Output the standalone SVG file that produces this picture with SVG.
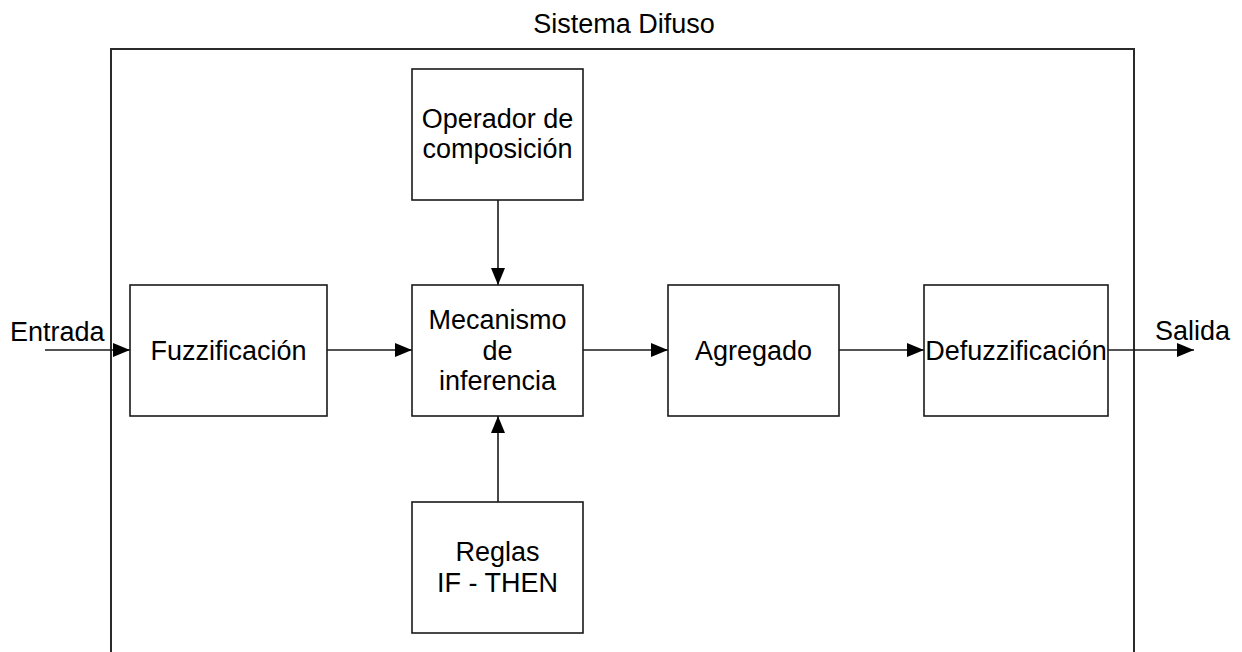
<svg xmlns="http://www.w3.org/2000/svg" width="1242" height="652" viewBox="0 0 1242 652">
<style>
  .box { fill: #fff; stroke: #1a1a1a; stroke-width: 1.6; }
  .frame { fill: none; stroke: #2a2a2a; stroke-width: 2; }
  .lbl { font-family: "Liberation Sans", Arial, sans-serif; font-size: 27px; fill: #000; text-anchor: middle; }
  .ext { font-family: "Liberation Sans", Arial, sans-serif; font-size: 27px; fill: #000; }
  .conn { fill: none; stroke: #1a1a1a; stroke-width: 1.6; marker-end: url(#arr); }
</style>
<defs>
  <marker id="arr" markerUnits="userSpaceOnUse" markerWidth="17" markerHeight="16" viewBox="0 0 17 16" refX="17" refY="8" orient="auto">
    <path d="M0,1 L17,8 L0,15 Z" fill="#000"/>
  </marker>
</defs>
<rect width="1242" height="652" fill="#fff"/>
<g id="frame">
  <path class="frame" d="M111,660 L111,49 L1134,49 L1134,660"/>
  <text class="lbl" x="624" y="33">Sistema Difuso</text>
</g>
<g id="connectors">
  <line class="conn" x1="45" y1="350" x2="130" y2="350"/>
  <line class="conn" x1="327" y1="350" x2="412" y2="350"/>
  <line class="conn" x1="583" y1="350" x2="668" y2="350"/>
  <line class="conn" x1="839" y1="350" x2="924" y2="350"/>
  <line class="conn" x1="1108" y1="350" x2="1194" y2="350"/>
  <line class="conn" x1="498" y1="200" x2="498" y2="285"/>
  <line class="conn" x1="498" y1="502" x2="498" y2="416"/>
  <text class="ext" x="10" y="341">Entrada</text>
  <text class="ext" x="1155" y="340">Salida</text>
</g>
<g id="fuzzificacion">
  <rect class="box" x="130" y="285" width="197" height="131"/>
  <text class="lbl" x="228.5" y="360">Fuzzificación</text>
</g>
<g id="operador">
  <rect class="box" x="412" y="69" width="171" height="131"/>
  <text class="lbl" x="497.5" y="128">Operador de</text>
  <text class="lbl" x="497.5" y="158">composición</text>
</g>
<g id="mecanismo">
  <rect class="box" x="412" y="285" width="171" height="131"/>
  <text class="lbl" x="497.5" y="329">Mecanismo</text>
  <text class="lbl" x="497.5" y="360">de</text>
  <text class="lbl" x="497.5" y="390">inferencia</text>
</g>
<g id="reglas">
  <rect class="box" x="412" y="502" width="171" height="131"/>
  <text class="lbl" x="497.5" y="561">Reglas</text>
  <text class="lbl" x="497.5" y="592">IF - THEN</text>
</g>
<g id="agregado">
  <rect class="box" x="668" y="285" width="171" height="131"/>
  <text class="lbl" x="753.5" y="360">Agregado</text>
</g>
<g id="defuzzificacion">
  <rect class="box" x="924" y="285" width="184" height="131"/>
  <text class="lbl" x="1016" y="360">Defuzzificación</text>
</g>
</svg>
